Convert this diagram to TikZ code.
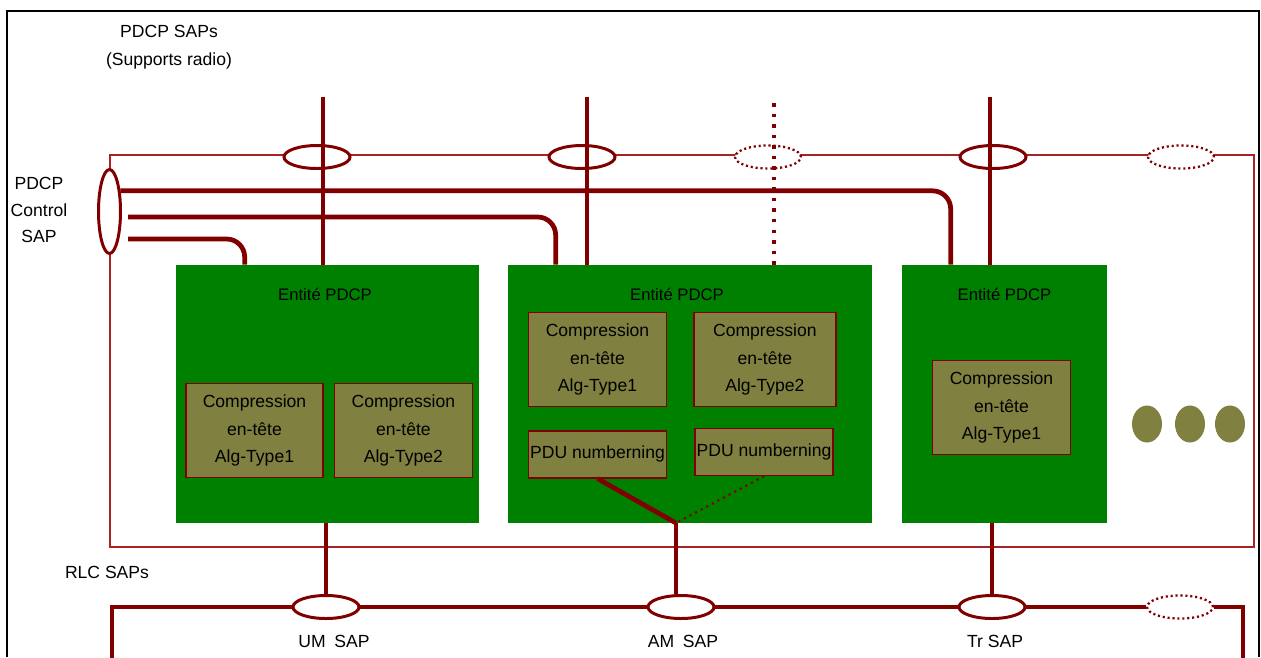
\documentclass[tikz,border=0pt]{standalone}
\usepackage{fontspec}
\setmainfont{Liberation Sans}
\usepackage{tikz}
\usetikzlibrary{positioning, shapes.geometric}
\definecolor{sapred}{RGB}{128,0,0}
\definecolor{layerred}{RGB}{165,35,35}
\definecolor{pdcpgreen}{RGB}{0,128,0}
\definecolor{algolive}{RGB}{128,128,64}

\begin{document}
\begin{tikzpicture}[x=0.02cm, y=-0.02cm,
entity node/.style={rectangle,fill=pdcpgreen,inner sep=0pt,minimum height=5.16cm},
entity label/.style={inner sep=0pt,font=\fontsize{9.5}{11}\selectfont},
alg node/.style={rectangle,draw=sapred,line width=0.8pt,fill=algolive,align=center,
  inner sep=0pt,minimum width=2.76cm,minimum height=1.88cm,font=\fontsize{10}{15.5}\selectfont},
pdu node/.style={alg node,minimum height=0.94cm},
sap node/.style={ellipse,draw=sapred,fill=white,line width=1.7pt,inner sep=0pt,
  minimum width=1.32cm,minimum height=0.46cm},
spare sap/.style={sap node,line width=1.3pt,dash pattern=on 1.2pt off 1.6pt},
dot node/.style={ellipse,fill=algolive,inner sep=0pt,minimum width=0.6cm,minimum height=0.74cm},
link/.style={draw=sapred,line width=2.7pt},
spare link/.style={draw=sapred,line width=2pt,dash pattern=on 2pt off 4pt},
text node/.style={align=center,inner sep=0pt,font=\fontsize{10}{16}\selectfont}]

\useasboundingbox (0,0) rectangle (1261,657);
\draw[line width=1.2pt] (7,657) -- (7,11) -- (1259,11) -- (1259,657);

% PDCP layer
\draw[layerred, line width=1pt] (110,155) rectangle (1254,547);

% SAP ellipses
\node[sap node] (a1) at (317,157) {};
\node[sap node] (a2) at (582,157) {};
\node[spare sap] (a3) at (768,157) {};
\node[sap node] (a4) at (993,157) {};
\node[spare sap] (a5) at (1181,157) {};
\node[sap node, minimum width=0.44cm, minimum height=1.68cm] (ctrl) at (109.5,211.5) {};

\node[sap node] (b1) at (326,607) {};
\node[sap node] (b2) at (681,607) {};
\node[sap node] (b3) at (992,607) {};
\node[spare sap] (b4) at (1180,607) {};

% entities
\node[entity node, minimum width=6.06cm] (E1) at (327.5,394) {};
\node[entity node, minimum width=7.28cm] (E2) at (690,394) {};
\node[entity node, minimum width=4.1cm] (E3) at (1004.5,394) {};

\node[entity label, below=0.47cm of E1.north, xshift=-0.05cm] (E1l) {Entité PDCP};
\node[entity label, below=0.47cm of E2.north, xshift=-0.26cm] (E2l) {Entité PDCP};
\node[entity label, below=0.47cm of E3.north] (E3l) {Entité PDCP};

\node[alg node, minimum width=2.74cm] (a11) at (254.5,430.5) {Compression\\en-tête\\Alg-Type1};
\node[alg node] (a12) [right=0.2cm of a11] {Compression\\en-tête\\Alg-Type2};
\node[alg node] (a21) at (597.5,359.5) {Compression\\en-tête\\Alg-Type1};
\node[alg node, minimum width=2.84cm] (a22) [right=0.52cm of a21] {Compression\\en-tête\\Alg-Type2};
\node[pdu node] (p21) [below=0.46cm of a21] {PDU numberning};
\node[pdu node] (p22) at (764,452) {PDU numberning};
\node[alg node] (a31) at (1001.5,407.5) {Compression\\en-tête\\Alg-Type1};

\node[dot node] (d1) at (1147,424) {};
\node[dot node] (d2) at (1190,424) {};
\node[dot node] (d3) at (1230,424) {};

% radio bearer SAPs
\coordinate (t1) at (323,97);
\coordinate (t2) at (587,97);
\coordinate (t3) at (774,103);
\coordinate (t4) at (990,97);
\draw[link] (t1) -- (t1 |- E1.north);
\draw[link] (t2) -- (t2 |- E2.north);
\draw[spare link] (t3) -- (t3 |- E2.north);
\draw[link] (t4) -- (t4 |- E3.north);

% control SAP
\coordinate (c2) at (128,217);
\coordinate (c3) at (128,239);
\draw[link, rounded corners=0.36cm] (ctrl.62) -| ([xshift=0.98cm]E3.north west);
\draw[link, rounded corners=0.36cm] (c2) -| ([xshift=0.96cm]E2.north west);
\draw[link, rounded corners=0.36cm] (c3) -| ([xshift=1.38cm]E1.north west);

% RLC SAPs
\coordinate (j) at (676,523);
\coordinate (l0) at (112,660);
\coordinate (r0) at (1243,660);
\draw[link] (p21.south) -- (j);
\draw[draw=sapred, line width=1.2pt, dash pattern=on 1.2pt off 2.4pt] (p22.south) -- (j);
\draw[link] (j) -- (j |- b2.north);
\draw[link] (b1.north |- E1.south) -- (b1.north);
\draw[link] (b3.north |- E3.south) -- (b3.north);
\draw[link] (l0) |- (b1.west);
\draw[link] (b1.east) -- (b2.west);
\draw[link] (b2.east) -- (b3.west);
\draw[link] (b3.east) -- (b4.west);
\draw[link] (b4.east) -| (r0);

% labels
\node[text node] (top) at (169,47) {PDCP SAPs\\(Supports radio)};
\node[text node, font=\fontsize{10}{15.3}\selectfont] (ctrlt) at (39,210) {PDCP\\Control\\SAP};
\node[text node] (rlc) at (107,572) {RLC SAPs};
\node[text node] (um) at (334,641) {UM\enspace SAP};
\node[text node] (am) at (683,641) {AM\enspace SAP};
\node[text node] (tr) at (995,641) {Tr SAP};
\end{tikzpicture}
\end{document}
